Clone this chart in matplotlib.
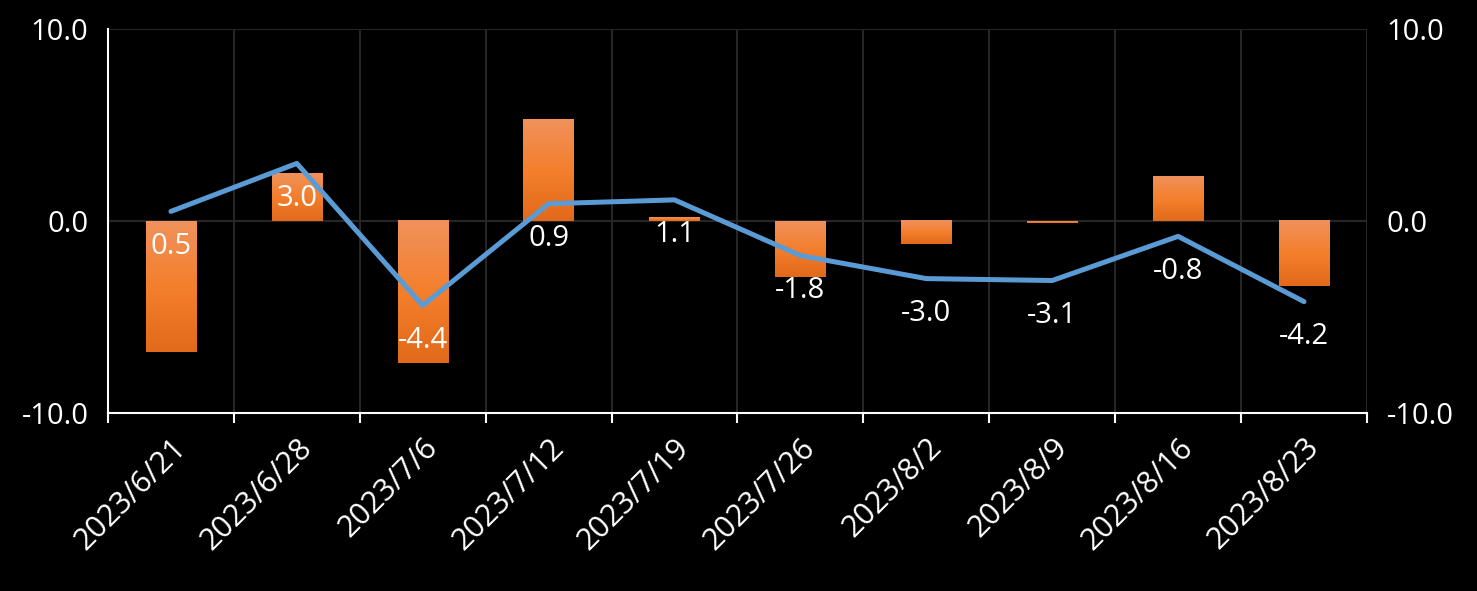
import matplotlib
matplotlib.use("Agg")
import matplotlib.pyplot as plt
import numpy as np
from matplotlib.colors import LinearSegmentedColormap

# data
dates = ["2023/6/21", "2023/6/28", "2023/7/6", "2023/7/12", "2023/7/19",
         "2023/7/26", "2023/8/2", "2023/8/9", "2023/8/16", "2023/8/23"]
bar_vals = [-6.8, 2.5, -7.4, 5.3, 0.2, -2.9, -1.2, -0.1, 2.3, -3.4]
line_vals = [0.5, 3.0, -4.4, 0.9, 1.1, -1.8, -3.0, -3.1, -0.8, -4.2]

plt.rcParams['font.family'] = ['Open Sans', 'DejaVu Sans']

fig = plt.figure(figsize=(14.77, 5.91), dpi=100, facecolor="black")
ax = fig.add_axes([0.0731, 0.3012, 0.8524, 0.6497])
ax.set_facecolor("black")

x = np.arange(len(dates))
width = 0.4

# orange gradient bars, light on top, darker at the bottom
cmap = LinearSegmentedColormap.from_list("bar", ["#F0915C", "#F47F2C", "#E2691B"])
grad = np.linspace(0, 1, 256).reshape(-1, 1)
for xi, v in zip(x, bar_vals):
    lo, hi = min(0, v), max(0, v)
    ax.imshow(grad, cmap=cmap, aspect="auto", zorder=2,
              extent=[xi - width / 2, xi + width / 2, lo, hi], origin="upper")

ax.plot(x, line_vals, color="#5B9BD5", lw=3.6, zorder=3, solid_capstyle="round")
for xi, v in zip(x, line_vals):
    ax.annotate(f"{v:.1f}", (xi, v), xytext=(0, -35), textcoords="offset pixels",
                ha="center", va="center", color="white", fontsize=21, zorder=4)

ax.set_xlim(-0.5, len(dates) - 0.5)
ax.set_ylim(-10, 10)
ax.set_yticks([-10, 0, 10])
ax.set_yticklabels([f"{t:.1f}" for t in [-10, 0, 10]])

ax.set_xticks(np.arange(-0.5, len(dates), 1))
ax.set_xticklabels([])
ax.set_xticks(x, minor=True)
ax.set_xticklabels(dates, minor=True, rotation=45, ha="right",
                   rotation_mode="anchor", color="white", fontsize=22)
ax.tick_params(axis="x", which="minor", length=0, pad=14)
ax.tick_params(axis="x", which="major", length=7, width=1.5, color="white",
               direction="out")
ax.tick_params(axis="y", length=0, pad=14, labelsize=21, labelcolor="white")

ax.grid(True, which="major", color="#262626", lw=1.5, zorder=0)
ax.set_axisbelow(True)

for s in ["top", "right"]:
    ax.spines[s].set_visible(False)
for s in ["left", "bottom"]:
    ax.spines[s].set_color("white")
    ax.spines[s].set_linewidth(1.5)

ax2 = ax.twinx()
ax2.set_ylim(-10, 10)
ax2.set_yticks([-10, 0, 10])
ax2.set_yticklabels([f"{t:.1f}" for t in [-10, 0, 10]])
ax2.tick_params(axis="y", length=0, pad=14, labelsize=21, labelcolor="white")
for s in ax2.spines.values():
    s.set_visible(False)

fig.savefig("out.png", dpi=100, facecolor="black")
